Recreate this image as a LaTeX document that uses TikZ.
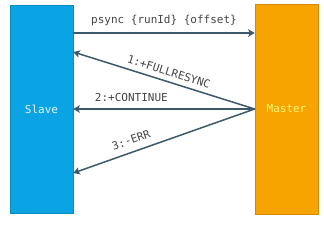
\documentclass[tikz,border=0pt]{standalone}
\usepackage{fontspec}
\setmonofont{DejaVu Sans Mono}
\usetikzlibrary{arrows.meta}
\definecolor{slaveblue}{HTML}{0AA3E3}
\definecolor{masterorange}{HTML}{F7A400}
\definecolor{arrowcol}{HTML}{3D586B}
\definecolor{labelcol}{HTML}{444444}
\begin{document}
\begin{tikzpicture}[x=1pt,y=-1pt,
  box/.style={draw=#1!85!black, line width=0.6pt, fill=#1, minimum width=63pt, inner sep=0pt, font=\ttfamily\fontsize{11pt}{13pt}\selectfont},
  msg/.style={draw=arrowcol, line width=1.5pt, -{Stealth[length=6.5pt,width=7.5pt,inset=1.5pt]}},
  lab/.style={text=labelcol, font=\ttfamily\fontsize{11pt}{13pt}\selectfont, inner sep=0pt}]
\useasboundingbox (0,0) rectangle (324,227);
\fill[white] (0,0) rectangle (324,227);
\node[box=slaveblue, minimum height=208pt, text=white!88!slaveblue] (slave) at (41.5,109) {Slave};
\node[box=masterorange, minimum height=210pt, text=yellow!55!white] (master) at (286.5,109) {Master};
\draw[msg] ([yshift=76pt]slave.east) -- node[lab, above=6pt] (l0) {psync \{runId\} \{offset\}} ([yshift=76pt]master.west);
\draw[msg] (master.west) -- node[lab, pos=0.49, sloped, above=5pt] (l1) {1:+FULLRESYNC} ([yshift=57pt]slave.east);
\draw[msg] (master.west) -- node[lab, pos=0.68, above=7pt] (l2) {2:+CONTINUE} (slave.east);
\draw[msg] (master.west) -- node[lab, pos=0.66, sloped, above=7pt] (l3) {3:-ERR} ([yshift=-64pt]slave.east);
\end{tikzpicture}
\end{document}
